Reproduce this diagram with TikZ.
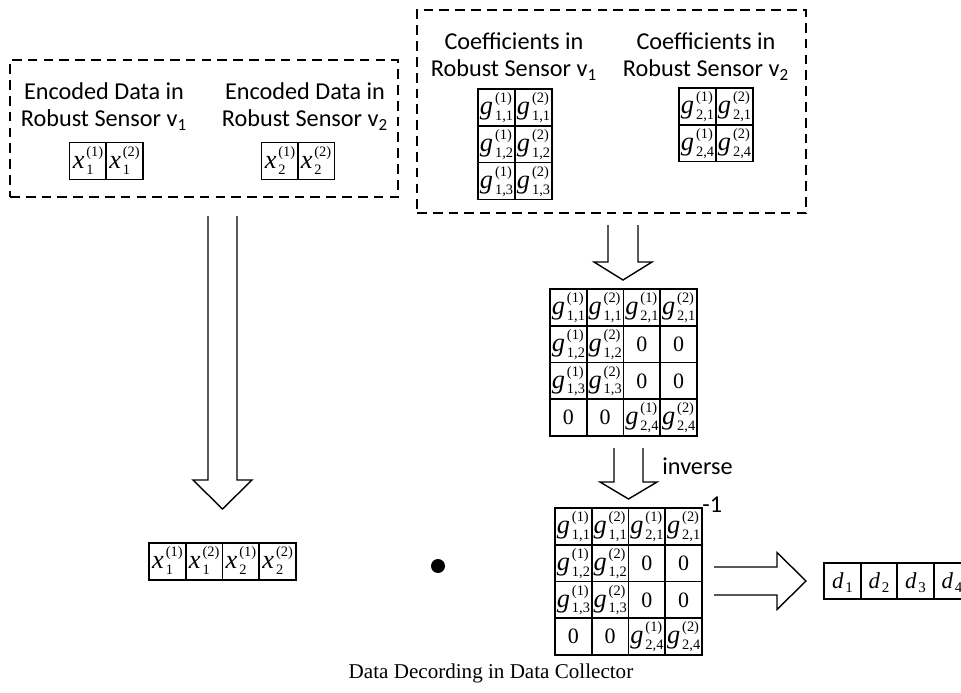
\documentclass[tikz,border=0pt]{standalone}
\usepackage{fontspec}
\setmainfont{Liberation Serif}
\newfontfamily\carl{Carlito}
\usetikzlibrary{calc}

% matrix entry: base letter with (sup) over sub
\newcommand{\ent}[3]{{\itshape #1}\kern1.1pt\raisebox{-3.4pt}{\fontsize{8.2}{10.1}\selectfont
  \begin{tabular}[b]{@{}l@{}}(#2)\\#3\end{tabular}}}
\newcommand{\dent}[2]{{\fontsize{13}{15}\selectfont\itshape #1}\kern1.1pt\raisebox{-2.6pt}{\fontsize{8.5}{9}\selectfont #2}}
\newcommand{\zer}{{\fontsize{12.5}{14}\selectfont 0}}

\begin{document}
\begin{tikzpicture}[
  x=0.02cm, y=-0.02cm,
  lbl/.style={font=\carl\fontsize{13.8}{15.3}\selectfont, align=center, inner sep=0pt},
  cell/.style={draw, line width=0.9pt, minimum width=0.735cm, minimum height=0.735cm,
    inner sep=0pt, text height=12.6pt, text depth=4.5pt, font=\fontsize{15}{17}\selectfont},
  dcell/.style={cell, minimum height=0.72cm},
  dashbox/.style={draw, dashed, dash pattern=on 5.5pt off 3.5pt, line width=0.85pt, inner sep=0pt},
  hollow/.style={line width=0.8pt, line join=miter}
]
\useasboundingbox (0,0) rectangle (961,693);
\clip (0,0) rectangle (961,693);

% Encoded data box
\def\Ex{88}
\def\Ey{161}
\node[dashbox, minimum width=7.76cm, minimum height=2.74cm] (encBox) at (204,128.5) {};
\node[lbl] (encA) at (104,106.5) {Encoded Data in\\Robust Sensor v\textsubscript{1}};
\node[lbl] (encB) at (305,106.5) {Encoded Data in\\Robust Sensor v\textsubscript{2}};
\node[cell] (xa1) at (\Ex, \Ey) {\ent{x}{1}{1}};
\node[cell] (xa2) at (\Ex+36.5, \Ey) {\ent{x}{2}{1}};
\node[cell] (xb1) at (280, \Ey) {\ent{x}{1}{2}};
\node[cell] (xb2) at (316, \Ey) {\ent{x}{2}{2}};

% Coefficients box
\def\Gx{496.5}
\def\Hx{697.5}
\node[dashbox, minimum width=7.78cm, minimum height=4.06cm] (coefBox) at (611.5,111.5) {};
\node[lbl] (coefA) at (514,56.5) {Coefficients in\\Robust Sensor v\textsubscript{1}};
\node[lbl] (coefB) at (706,56.5) {Coefficients in\\Robust Sensor v\textsubscript{2}};
\node[cell] (ga11) at (\Gx, 107.5) {\ent{g}{1}{1,1}};
\node[cell] (ga12) at (\Gx+37, 107.5) {\ent{g}{2}{1,1}};
\node[cell] (ga21) at (\Gx, 144.25) {\ent{g}{1}{1,2}};
\node[cell] (ga22) at (\Gx+37, 144.25) {\ent{g}{2}{1,2}};
\node[cell] (ga31) at (\Gx, 181) {\ent{g}{1}{1,3}};
\node[cell] (ga32) at (\Gx+37, 181) {\ent{g}{2}{1,3}};
\node[cell] (gb11) at (\Hx, 106.5) {\ent{g}{1}{2,1}};
\node[cell] (gb12) at (\Hx+37, 106.5) {\ent{g}{2}{2,1}};
\node[cell] (gb21) at (\Hx, 143.25) {\ent{g}{1}{2,4}};
\node[cell] (gb22) at (\Hx+37, 143.25) {\ent{g}{2}{2,4}};

% Arrow: coefficients -> matrix
\coordinate (coefTail) at (623,225);
\coordinate (coefTip) at (623,280);
\draw[hollow] ($(coefTail)+(-15,0)$) -- ($(coefTip)+(-15,-18)$) -- ($(coefTip)+(-29,-18)$)
  -- (coefTip) -- ($(coefTip)+(29,-18)$) -- ($(coefTip)+(15,-18)$) -- ($(coefTail)+(15,0)$);

% Coding matrix
\def\Mx{568.4}
\def\My{307.4}
\def\d{36.75}
\node[cell] (ma11) at (\Mx, \My) {\ent{g}{1}{1,1}};
\node[cell] (ma12) at (\Mx+\d, \My) {\ent{g}{2}{1,1}};
\node[cell] (ma13) at (\Mx+2*\d, \My) {\ent{g}{1}{2,1}};
\node[cell] (ma14) at (\Mx+3*\d, \My) {\ent{g}{2}{2,1}};
\node[cell] (ma21) at (\Mx, \My+\d) {\ent{g}{1}{1,2}};
\node[cell] (ma22) at (\Mx+\d, \My+\d) {\ent{g}{2}{1,2}};
\node[cell] (ma23) at (\Mx+2*\d, \My+\d) {\zer};
\node[cell] (ma24) at (\Mx+3*\d, \My+\d) {\zer};
\node[cell] (ma31) at (\Mx, \My+2*\d) {\ent{g}{1}{1,3}};
\node[cell] (ma32) at (\Mx+\d, \My+2*\d) {\ent{g}{2}{1,3}};
\node[cell] (ma33) at (\Mx+2*\d, \My+2*\d) {\zer};
\node[cell] (ma34) at (\Mx+3*\d, \My+2*\d) {\zer};
\node[cell] (ma41) at (\Mx, \My+3*\d) {\zer};
\node[cell] (ma42) at (\Mx+\d, \My+3*\d) {\zer};
\node[cell] (ma43) at (\Mx+2*\d, \My+3*\d) {\ent{g}{1}{2,4}};
\node[cell] (ma44) at (\Mx+3*\d, \My+3*\d) {\ent{g}{2}{2,4}};

% Arrow: matrix -> inverse
\coordinate (invTail) at (628.5,448);
\coordinate (invTip) at (628.5,499);
\draw[hollow] ($(invTail)+(-14.5,0)$) -- ($(invTip)+(-14.5,-17)$) -- ($(invTip)+(-28.5,-17)$)
  -- (invTip) -- ($(invTip)+(28.5,-17)$) -- ($(invTip)+(14.5,-17)$) -- ($(invTail)+(14.5,0)$);
\node[lbl, anchor=west] (inv) at (662,466) {inverse};

% Inverse matrix
\def\Nx{573.4}
\def\Ny{526.4}
\node[cell] (mb11) at (\Nx, \Ny) {\ent{g}{1}{1,1}};
\node[cell] (mb12) at (\Nx+\d, \Ny) {\ent{g}{2}{1,1}};
\node[cell] (mb13) at (\Nx+2*\d, \Ny) {\ent{g}{1}{2,1}};
\node[cell] (mb14) at (\Nx+3*\d, \Ny) {\ent{g}{2}{2,1}};
\node[cell] (mb21) at (\Nx, \Ny+\d) {\ent{g}{1}{1,2}};
\node[cell] (mb22) at (\Nx+\d, \Ny+\d) {\ent{g}{2}{1,2}};
\node[cell] (mb23) at (\Nx+2*\d, \Ny+\d) {\zer};
\node[cell] (mb24) at (\Nx+3*\d, \Ny+\d) {\zer};
\node[cell] (mb31) at (\Nx, \Ny+2*\d) {\ent{g}{1}{1,3}};
\node[cell] (mb32) at (\Nx+\d, \Ny+2*\d) {\ent{g}{2}{1,3}};
\node[cell] (mb33) at (\Nx+2*\d, \Ny+2*\d) {\zer};
\node[cell] (mb34) at (\Nx+3*\d, \Ny+2*\d) {\zer};
\node[cell] (mb41) at (\Nx, \Ny+3*\d) {\zer};
\node[cell] (mb42) at (\Nx+\d, \Ny+3*\d) {\zer};
\node[cell] (mb43) at (\Nx+2*\d, \Ny+3*\d) {\ent{g}{1}{2,4}};
\node[cell] (mb44) at (\Nx+3*\d, \Ny+3*\d) {\ent{g}{2}{2,4}};
\node[lbl, anchor=west] (minus) at (702,505) {-1};

% Arrow: encoded data -> collected data
\coordinate (encTail) at (222.5,216);
\coordinate (encTip) at (222.5,509);
\draw[hollow] ($(encTail)+(-14.5,0)$) -- ($(encTip)+(-14.5,-29)$) -- ($(encTip)+(-29.5,-29)$)
  -- (encTip) -- ($(encTip)+(29.5,-29)$) -- ($(encTip)+(14.5,-29)$) -- ($(encTail)+(14.5,0)$);

% Collected data
\def\Cx{167.4}
\node[cell] (xc1) at (\Cx, 561.5) {\ent{x}{1}{1}};
\node[cell] (xc2) at (\Cx+\d, 561.5) {\ent{x}{2}{1}};
\node[cell] (xc3) at (\Cx+2*\d, 561.5) {\ent{x}{1}{2}};
\node[cell] (xc4) at (\Cx+3*\d, 561.5) {\ent{x}{2}{2}};

% Product
\node[circle, fill, inner sep=0pt, minimum size=0.28cm] (dot) at (438,566) {};

% Arrow: product -> decoded data
\coordinate (decTail) at (714,581);
\coordinate (decTip) at (806,581);
\draw[hollow] ($(decTail)+(0,-14)$) -- ($(decTip)+(-29,-14)$) -- ($(decTip)+(-29,-28.5)$)
  -- (decTip) -- ($(decTip)+(-29,28.5)$) -- ($(decTip)+(-29,14)$) -- ($(decTail)+(0,14)$);

% Decoded data
\def\Dx{842.5}
\node[dcell] (d1) at (\Dx, 581) {\dent{d}{1}};
\node[dcell] (d2) at (\Dx+36.5, 581) {\dent{d}{2}};
\node[dcell] (d3) at (\Dx+2*36.5, 581) {\dent{d}{3}};
\node[dcell] (d4) at (\Dx+3*36.5, 581) {\dent{d}{4}};

% Caption
\node[font=\fontsize{12}{14}\selectfont] (cap) at (491,673) {Data Decording in Data Collector};

\end{tikzpicture}
\end{document}
